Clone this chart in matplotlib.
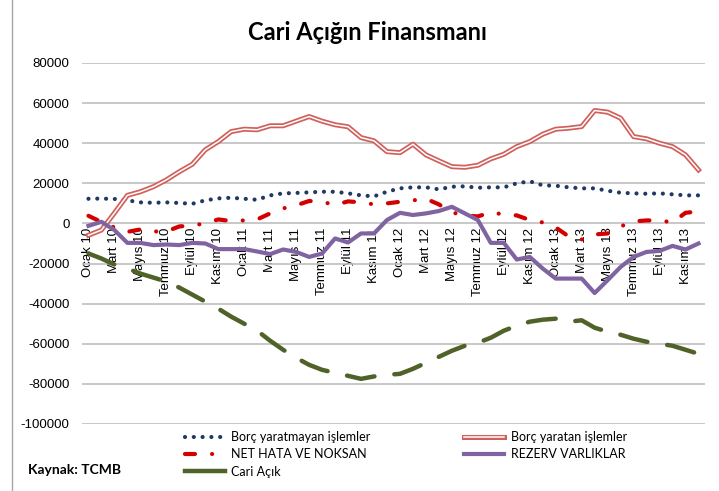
import numpy as np
import matplotlib
matplotlib.use("Agg")
import matplotlib.pyplot as plt
from matplotlib.lines import Line2D

plt.rcParams['axes.unicode_minus'] = False

# months Jan 2010 - Dec 2013
ay = ['Ocak', 'Şubat', 'Mart', 'Nisan', 'Mayıs', 'Haziran',
      'Temmuz', 'Ağustos', 'Eylül', 'Ekim', 'Kasım', 'Aralık']
yil = ['10', '11', '12', '13']
donem = [m + ' ' + y for y in yil for m in ay]

borc_yaratmayan = [12300, 12400, 12200, 11500, 10500, 10300, 10500, 10200, 9800, 11500,
                   12500, 12800, 12300, 11800, 14000, 15000, 15200, 15500, 15800, 15800,
                   15000, 14000, 13500, 15800, 17500, 18000, 18000, 17000, 18300, 18500,
                   17800, 18000, 18000, 20000, 21000, 19000, 18800, 18000, 17500, 17500,
                   16300, 15300, 15000, 14800, 15000, 14500, 14000, 14000]
borc_yaratan = [-5900, -3300, 5200, 14000, 15800, 18300, 21700, 25800, 29500, 36700,
                40800, 45800, 47000, 46700, 48700, 48700, 51000, 53300, 51000, 49200,
                48200, 42800, 41200, 35800, 35300, 39500, 34200, 31200, 28300, 28000,
                29000, 32200, 34500, 38300, 40800, 44500, 47000, 47500, 48300, 56300,
                55500, 52500, 43300, 42200, 40000, 38300, 34200, 26700]
net_hata = [3800, 700, -2000, -4200, -3000, -4000, -4000, -1500, -1000, 0,
            2000, 1200, 1500, 2000, 5000, 7500, 9000, 11200, 10800, 9200,
            11000, 10500, 9500, 10000, 10800, 11500, 12300, 9500, 5500, 4000,
            3500, 5500, 4500, 4000, 1700, 500, -2000, -6500, -8000, -5500,
            -5000, -1500, 1000, 1500, 1500, 500, 5300, 6000]
rezerv = [-1200, 800, -3300, -9700, -9700, -10800, -10500, -10800, -9700, -10000,
          -12800, -12800, -12800, -14000, -15300, -13000, -14200, -16700, -15000, -7500,
          -9500, -5000, -5000, 1700, 5300, 4200, 5000, 6200, 8300, 5000,
          1700, -9700, -9700, -18000, -16700, -22500, -27500, -27500, -27500, -34700,
          -28300, -21700, -16700, -14200, -13700, -11200, -13000, -10000]
cari_acik = [-15000, -17500, -20500, -22500, -25000, -27000, -29000, -32000, -35500, -39000,
             -42500, -46500, -50000, -53500, -58500, -63000, -67000, -70500, -73000, -74500,
             -76000, -77500, -76300, -75500, -75000, -72500, -69500, -66500, -63500, -61000,
             -59500, -57000, -53500, -51000, -49000, -48000, -47500, -49000, -48300, -52000,
             -54000, -55500, -57500, -59000, -60000, -61000, -63000, -65000]

x = np.arange(len(donem))

fig = plt.figure(figsize=(7.19, 4.91), dpi=100)
ax = fig.add_axes([0.114, 0.1365, 0.8665, 0.7352])

# x labels sit on the zero line, like the Excel original
ax.spines['bottom'].set_position(('data', 0))
for s in ax.spines.values():
    s.set_visible(False)

ax.set_ylim(-100000, 80000)
ax.set_xlim(-0.5, len(donem) - 0.5)
ax.set_yticks(np.arange(-100000, 80001, 20000))
ax.grid(axis='y', color='#bfbfbf', lw=1.2)
ax.set_axisbelow(True)

l_blue, = ax.plot(x, borc_yaratmayan, color='#1f3864', lw=3,
                  linestyle=(0, (0.01, 2.1)), dash_capstyle='round')
l_red_o, = ax.plot(x, borc_yaratan, color='#d0605c', lw=3.6)
l_red_i, = ax.plot(x, borc_yaratan, color='white', lw=1.1)
l_net, = ax.plot(x, net_hata, color='#d40000', lw=3,
                 linestyle=(0, (2.4, 4.1, 0.01, 4.1)), dash_capstyle='round')
l_rez, = ax.plot(x, rezerv, color='#8064a2', lw=3)
l_cari, = ax.plot(x, cari_acik, color='#4f6228', lw=3.2,
                  linestyle=(0, (6.3, 4.5)), dash_capstyle='round')

ax.set_xticks(x[::2])
ax.set_xticklabels(donem[::2], rotation=90, fontsize=9.5, family='Liberation Sans',
                   va='top', ha='center')
ax.tick_params(axis='x', length=0, pad=3)
ax.tick_params(axis='y', length=0, pad=9, labelsize=9.5)
for t in ax.get_yticklabels():
    t.set_family('Liberation Sans')

fig.text(0.511, 0.933, 'Cari Açığın Finansmanı', ha='center', va='center',
         fontsize=17, fontweight='bold', family='Lato')
fig.text(28 / 719, 1 - 470 / 491, 'Kaynak: TCMB', ha='left', va='center',
         fontsize=10, fontweight='bold', family='Lato')

cari_h = Line2D([], [], color='#4f6228', lw=3.2)
leg = ax.legend([l_blue, l_net, cari_h, (l_red_o, l_red_i), l_rez],
                ['Borç yaratmayan işlemler', 'NET HATA VE NOKSAN', 'Cari Açık',
                 'Borç yaratan işlemler', 'REZERV VARLIKLAR'],
                ncol=2, loc='upper left', bbox_to_anchor=(185 / 719, 1 - 431 / 491),
                bbox_transform=fig.transFigure, frameon=False, borderpad=0,
                borderaxespad=0, handlelength=3.2, handletextpad=0.5,
                columnspacing=7.5, labelspacing=0.42,
                prop={'family': 'Lato', 'size': 9})

fig.add_artist(Line2D([12 / 719, 12 / 719], [0, 1], color='#a6a6a6', lw=1,
                      transform=fig.transFigure))

fig.savefig('out.png', dpi=100)
